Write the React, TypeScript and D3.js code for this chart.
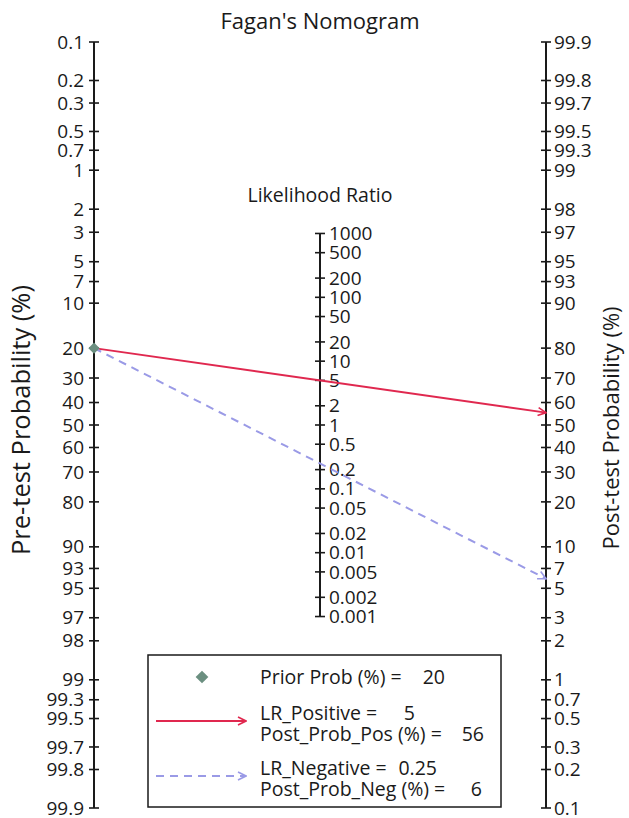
import React from "react";
import * as d3 from "d3";

// Fagan's nomogram
const width = 629;
const height = 818;

const preTicks = [0.1, 0.2, 0.3, 0.5, 0.7, 1, 2, 3, 5, 7, 10, 20, 30, 40, 50, 60, 70, 80, 90, 93, 95, 97, 98, 99, 99.3, 99.5, 99.7, 99.8, 99.9];
const postTicks = [99.9, 99.8, 99.7, 99.5, 99.3, 99, 98, 97, 95, 93, 90, 80, 70, 60, 50, 40, 30, 20, 10, 7, 5, 3, 2, 1, 0.7, 0.5, 0.3, 0.2, 0.1];
const lrTicks = [1000, 500, 200, 100, 50, 20, 10, 5, 2, 1, 0.5, 0.2, 0.1, 0.05, 0.02, 0.01, 0.005, 0.002, 0.001];

const priorProb = 20;
const lrPositive = 5;
const lrNegative = 0.25;
const postProbPos = 56;
const postProbNeg = 6;

const xLeft = 94;
const xRight = 546;
const xMid = (xLeft + xRight) / 2;
const yTop = 42;
const yBottom = 808;

const font = "'Open Sans', sans-serif";
const ink = "#1a1a1a";
const red = "#e0284f";
const blue = "#9a9ae6";
const green = "#6b8f80";

const logit = (pct: number) => Math.log(pct / 100 / (1 - pct / 100));

const App = () => {
    const yPre = d3.scaleLinear().domain([logit(0.1), logit(99.9)]).range([yTop, yBottom]);
    const yPost = d3.scaleLinear().domain([logit(99.9), logit(0.1)]).range([yTop, yBottom]);
    // middle axis sits halfway between the two probability axes
    const midY = (lr: number) => (yPre(0) + yPost(Math.log(lr))) / 2;
    const yLR = d3.scaleLog().domain([0.001, 1000]).range([midY(0.001), midY(1000)]);

    const postFromLR = (lr: number) => {
        const odds = (priorProb / (100 - priorProb)) * lr;
        return (odds / (1 + odds)) * 100;
    };

    const start: [number, number] = [xLeft, yPre(logit(priorProb))];
    const endPos: [number, number] = [xRight, yPost(logit(postFromLR(lrPositive)))];
    const endNeg: [number, number] = [xRight, yPost(logit(postFromLR(lrNegative)))];

    const lineGen = d3.line();
    const marker = d3.symbol().type(d3.symbolSquare).size(64)();
    const legMarker = d3.symbol().type(d3.symbolSquare).size(81)();

    const legX = 148;
    const legY = 655;
    const legFont = 19.5;

    return (
        <svg width={width} height={height} style={{ position: "absolute", left: 0, top: 0 }} fontFamily={font}>
            <defs>
                <marker id="arrRed" viewBox="0 0 10 10" refX="9" refY="5" markerWidth="5" markerHeight="5" orient="auto" markerUnits="strokeWidth">
                    <path d="M1,1 L9,5 L1,9" fill="none" stroke={red} strokeWidth={1.6} />
                </marker>
                <marker id="arrBlue" viewBox="0 0 10 10" refX="9" refY="5" markerWidth="5" markerHeight="5" orient="auto" markerUnits="strokeWidth">
                    <path d="M1,1 L9,5 L1,9" fill="none" stroke={blue} strokeWidth={1.6} />
                </marker>
            </defs>
            <rect width={width} height={height} fill="white" />

            <text x={xMid} y={29} textAnchor="middle" fontSize={22} fill={ink}>
                Fagan's Nomogram
            </text>
            <text x={xMid} y={202} textAnchor="middle" fontSize={19.5} fill={ink}>
                Likelihood Ratio
            </text>

            {/* pre-test axis */}
            <line x1={xLeft} x2={xLeft} y1={yTop} y2={yBottom} stroke={ink} strokeWidth={2} />
            {preTicks.map((t, i) => (
                <g key={i}>
                    <line x1={xLeft - 5} x2={xLeft + 5} y1={yPre(logit(t))} y2={yPre(logit(t))} stroke={ink} strokeWidth={1.6} />
                    <text x={xLeft - 10} y={yPre(logit(t))} dy="0.35em" textAnchor="end" fontSize={19} fill={ink}>
                        {t}
                    </text>
                </g>
            ))}

            {/* post-test axis */}
            <line x1={xRight} x2={xRight} y1={yTop} y2={yBottom} stroke={ink} strokeWidth={2} />
            {postTicks.map((t, i) => (
                <g key={i}>
                    <line x1={xRight - 5} x2={xRight + 5} y1={yPost(logit(t))} y2={yPost(logit(t))} stroke={ink} strokeWidth={1.6} />
                    <text x={xRight + 8} y={yPost(logit(t))} dy="0.35em" fontSize={19} fill={ink}>
                        {t}
                    </text>
                </g>
            ))}

            {/* likelihood ratio axis */}
            <line x1={xMid} x2={xMid} y1={yLR(1000)} y2={yLR(0.001)} stroke={ink} strokeWidth={2} />
            {lrTicks.map((t, i) => (
                <g key={i}>
                    <line x1={xMid - 5} x2={xMid + 5} y1={yLR(t)} y2={yLR(t)} stroke={ink} strokeWidth={1.6} />
                    <text x={xMid + 9} y={yLR(t)} dy="0.35em" fontSize={19} fill={ink}>
                        {t}
                    </text>
                </g>
            ))}

            <path d={lineGen([start, endPos]) ?? ""} stroke={red} strokeWidth={2} fill="none" markerEnd="url(#arrRed)" />
            <path d={lineGen([start, endNeg]) ?? ""} stroke={blue} strokeWidth={2} strokeDasharray="8 6" fill="none" markerEnd="url(#arrBlue)" />
            <path d={marker ?? ""} transform={`translate(${start[0]},${start[1]}) rotate(45)`} fill={green} />

            <text transform={`translate(30,420) rotate(-90)`} textAnchor="middle" fontSize={25.5} fill={ink}>
                Pre-test Probability (%)
            </text>
            <text transform={`translate(619,428) rotate(-90)`} textAnchor="middle" fontSize={22} fill={ink}>
                Post-test Probability (%)
            </text>

            {/* legend */}
            <rect x={legX} y={legY} width={353} height={152} fill="white" stroke={ink} strokeWidth={1.5} />
            <path d={legMarker ?? ""} transform={`translate(${legX + 54},${legY + 22}) rotate(45)`} fill={green} />
            <text x={legX + 112} y={legY + 22} dy="0.35em" fontSize={legFont} fill={ink}>Prior Prob (%) =</text>
            <text x={legX + 297} y={legY + 22} dy="0.35em" textAnchor="end" fontSize={legFont} fill={ink}>{priorProb}</text>

            <path d={lineGen([[legX + 8, legY + 66], [legX + 98, legY + 66]]) ?? ""} stroke={red} strokeWidth={2} markerEnd="url(#arrRed)" />
            <text x={legX + 112} y={legY + 58} dy="0.35em" fontSize={legFont} fill={ink}>LR_Positive =</text>
            <text x={legX + 267} y={legY + 58} dy="0.35em" textAnchor="end" fontSize={legFont} fill={ink}>{lrPositive}</text>
            <text x={legX + 112} y={legY + 79} dy="0.35em" fontSize={legFont} fill={ink}>Post_Prob_Pos (%) =</text>
            <text x={legX + 336} y={legY + 79} dy="0.35em" textAnchor="end" fontSize={legFont} fill={ink}>{postProbPos}</text>

            <path d={lineGen([[legX + 8, legY + 121], [legX + 98, legY + 121]]) ?? ""} stroke={blue} strokeWidth={2} strokeDasharray="8 6" markerEnd="url(#arrBlue)" />
            <text x={legX + 112} y={legY + 113} dy="0.35em" fontSize={legFont} fill={ink}>LR_Negative =</text>
            <text x={legX + 289} y={legY + 113} dy="0.35em" textAnchor="end" fontSize={legFont} fill={ink}>{lrNegative}</text>
            <text x={legX + 112} y={legY + 134} dy="0.35em" fontSize={legFont} fill={ink}>Post_Prob_Neg (%) =</text>
            <text x={legX + 334} y={legY + 134} dy="0.35em" textAnchor="end" fontSize={legFont} fill={ink}>{postProbNeg}</text>
        </svg>
    );
};

export default App;
